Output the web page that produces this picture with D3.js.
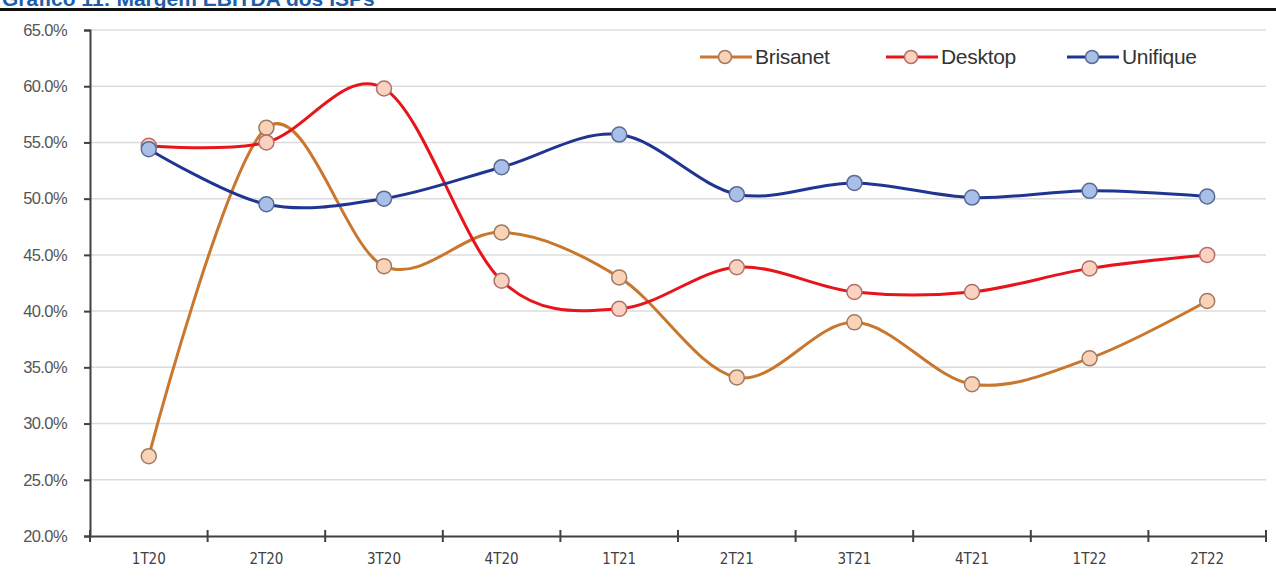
<!DOCTYPE html>
<html lang="pt">
<head>
  <meta charset="UTF-8">
  <title>Margem EBITDA</title>
  <script src="https://cdnjs.cloudflare.com/ajax/libs/d3/7.8.5/d3.min.js"></script>
  <style>
    body { margin: 0; background: white; }
    svg { display: block; }
  </style>
</head>
<body>
  <script>
    var categories = ["1T20", "2T20", "3T20", "4T20", "1T21", "2T21", "3T21", "4T21", "1T22", "2T22"];
    var brisanet = [27.1, 56.3, 44.0, 47.0, 43.0, 34.1, 39.0, 33.5, 35.8, 40.9];
    var desktop  = [54.7, 55.0, 59.8, 42.7, 40.2, 43.9, 41.7, 41.7, 43.8, 45.0];
    var unifique = [54.4, 49.5, 50.0, 52.8, 55.7, 50.4, 51.4, 50.1, 50.7, 50.2];
    var yTicks = [20, 25, 30, 35, 40, 45, 50, 55, 60, 65];

    var series = [
      { name: "Brisanet", values: brisanet, line: "#c9772f", fill: "#f9d3b8", stroke: "#a07a60" },
      { name: "Desktop",  values: desktop,  line: "#e8141c", fill: "#fbd2c0", stroke: "#b0706a" },
      { name: "Unifique", values: unifique, line: "#1f3592", fill: "#a8bfea", stroke: "#5a6a90" }
    ];

    var w = 1276, h = 581;
    var mLeft = 90, mRight = 1266, mTop = 30, mBottom = 536;

    var svg = d3.select("body").append("svg")
      .attr("width", w)
      .attr("height", h);

    // heading, cut off at the top like the source picture
    svg.append("text")
      .attr("x", 2)
      .attr("y", 6)
      .attr("font-family", "Liberation Sans, Arial, sans-serif")
      .attr("font-weight", "bold")
      .attr("font-size", 21)
      .attr("fill", "#1f5fa8")
      .text("Gráfico 11: Margem EBITDA dos ISPs");
    svg.append("rect")
      .attr("x", 0).attr("y", 8)
      .attr("width", w).attr("height", 3)
      .attr("fill", "#111");

    var xScale = d3.scaleBand()
      .domain(categories)
      .range([mLeft, mRight]);

    var yScale = d3.scaleLinear()
      .domain([20, 65])
      .range([mBottom, mTop]);

    // gridlines
    svg.selectAll(".grid")
      .data(yTicks.slice(1))
      .enter()
      .append("line")
      .attr("x1", mLeft)
      .attr("x2", mRight)
      .attr("y1", function(d) { return yScale(d); })
      .attr("y2", function(d) { return yScale(d); })
      .attr("stroke", "#dcdcdc")
      .attr("stroke-width", 1.5);

    // y axis
    var yAxis = svg.append("g")
      .attr("transform", "translate(" + mLeft + ",0)")
      .call(d3.axisLeft(yScale)
        .tickValues(yTicks)
        .tickSize(6)
        .tickPadding(17)
        .tickFormat(function(d) { return d.toFixed(1) + "%"; }));
    yAxis.select(".domain").attr("stroke", "#404040").attr("stroke-width", 2);
    yAxis.selectAll(".tick line").attr("stroke", "#404040").attr("stroke-width", 2);
    yAxis.selectAll("text")
      .attr("font-family", "Liberation Sans, Arial, sans-serif")
      .attr("font-size", 16.5)
      .attr("letter-spacing", -0.6)
      .attr("fill", "#555");

    // x axis
    var xAxis = svg.append("g")
      .attr("transform", "translate(0," + mBottom + ")")
      .call(d3.axisBottom(xScale).tickSize(0).tickPadding(17));
    xAxis.select(".domain").attr("stroke", "#404040").attr("stroke-width", 2);
    xAxis.selectAll("text")
      .attr("font-family", "DejaVu Sans Condensed, Liberation Sans Narrow, sans-serif")
      .attr("font-size", 15)
      .attr("fill", "#404040");

    var bounds = categories.map(function(c) { return xScale(c); }).concat([mRight]);
    svg.selectAll(".xtick")
      .data(bounds)
      .enter()
      .append("line")
      .attr("x1", function(d) { return d; })
      .attr("x2", function(d) { return d; })
      .attr("y1", mBottom - 6)
      .attr("y2", mBottom + 6)
      .attr("stroke", "#404040")
      .attr("stroke-width", 2);

    var cx = function(i) { return xScale(categories[i]) + xScale.bandwidth() / 2; };

    var line = d3.line()
      .x(function(d, i) { return cx(i); })
      .y(function(d) { return yScale(d); })
      .curve(d3.curveCardinal.tension(0));

    series.forEach(function(s) {
      svg.append("path")
        .datum(s.values)
        .attr("d", line)
        .attr("fill", "none")
        .attr("stroke", s.line)
        .attr("stroke-width", 3);
    });

    series.forEach(function(s) {
      svg.selectAll(null)
        .data(s.values)
        .enter()
        .append("circle")
        .attr("cx", function(d, i) { return cx(i); })
        .attr("cy", function(d) { return yScale(d); })
        .attr("r", 7.5)
        .attr("fill", s.fill)
        .attr("stroke", s.stroke)
        .attr("stroke-width", 1.5);
    });

    // legend
    var legendX = [725, 911, 1092];
    var legend = svg.selectAll(".legend")
      .data(series)
      .enter()
      .append("g")
      .attr("transform", function(d, i) { return "translate(" + legendX[i] + ",57)"; });
    legend.append("line")
      .attr("x1", -25).attr("x2", 27)
      .attr("stroke", function(d) { return d.line; })
      .attr("stroke-width", 3);
    legend.append("circle")
      .attr("r", 6.5)
      .attr("fill", function(d) { return d.fill; })
      .attr("stroke", function(d) { return d.stroke; })
      .attr("stroke-width", 1.5);
    legend.append("text")
      .attr("x", 30)
      .attr("y", 7)
      .attr("font-family", "Liberation Sans, Arial, sans-serif")
      .attr("font-size", 21)
      .attr("letter-spacing", -0.3)
      .attr("fill", "#333")
      .text(function(d) { return d.name; });
  </script>
</body>
</html>
